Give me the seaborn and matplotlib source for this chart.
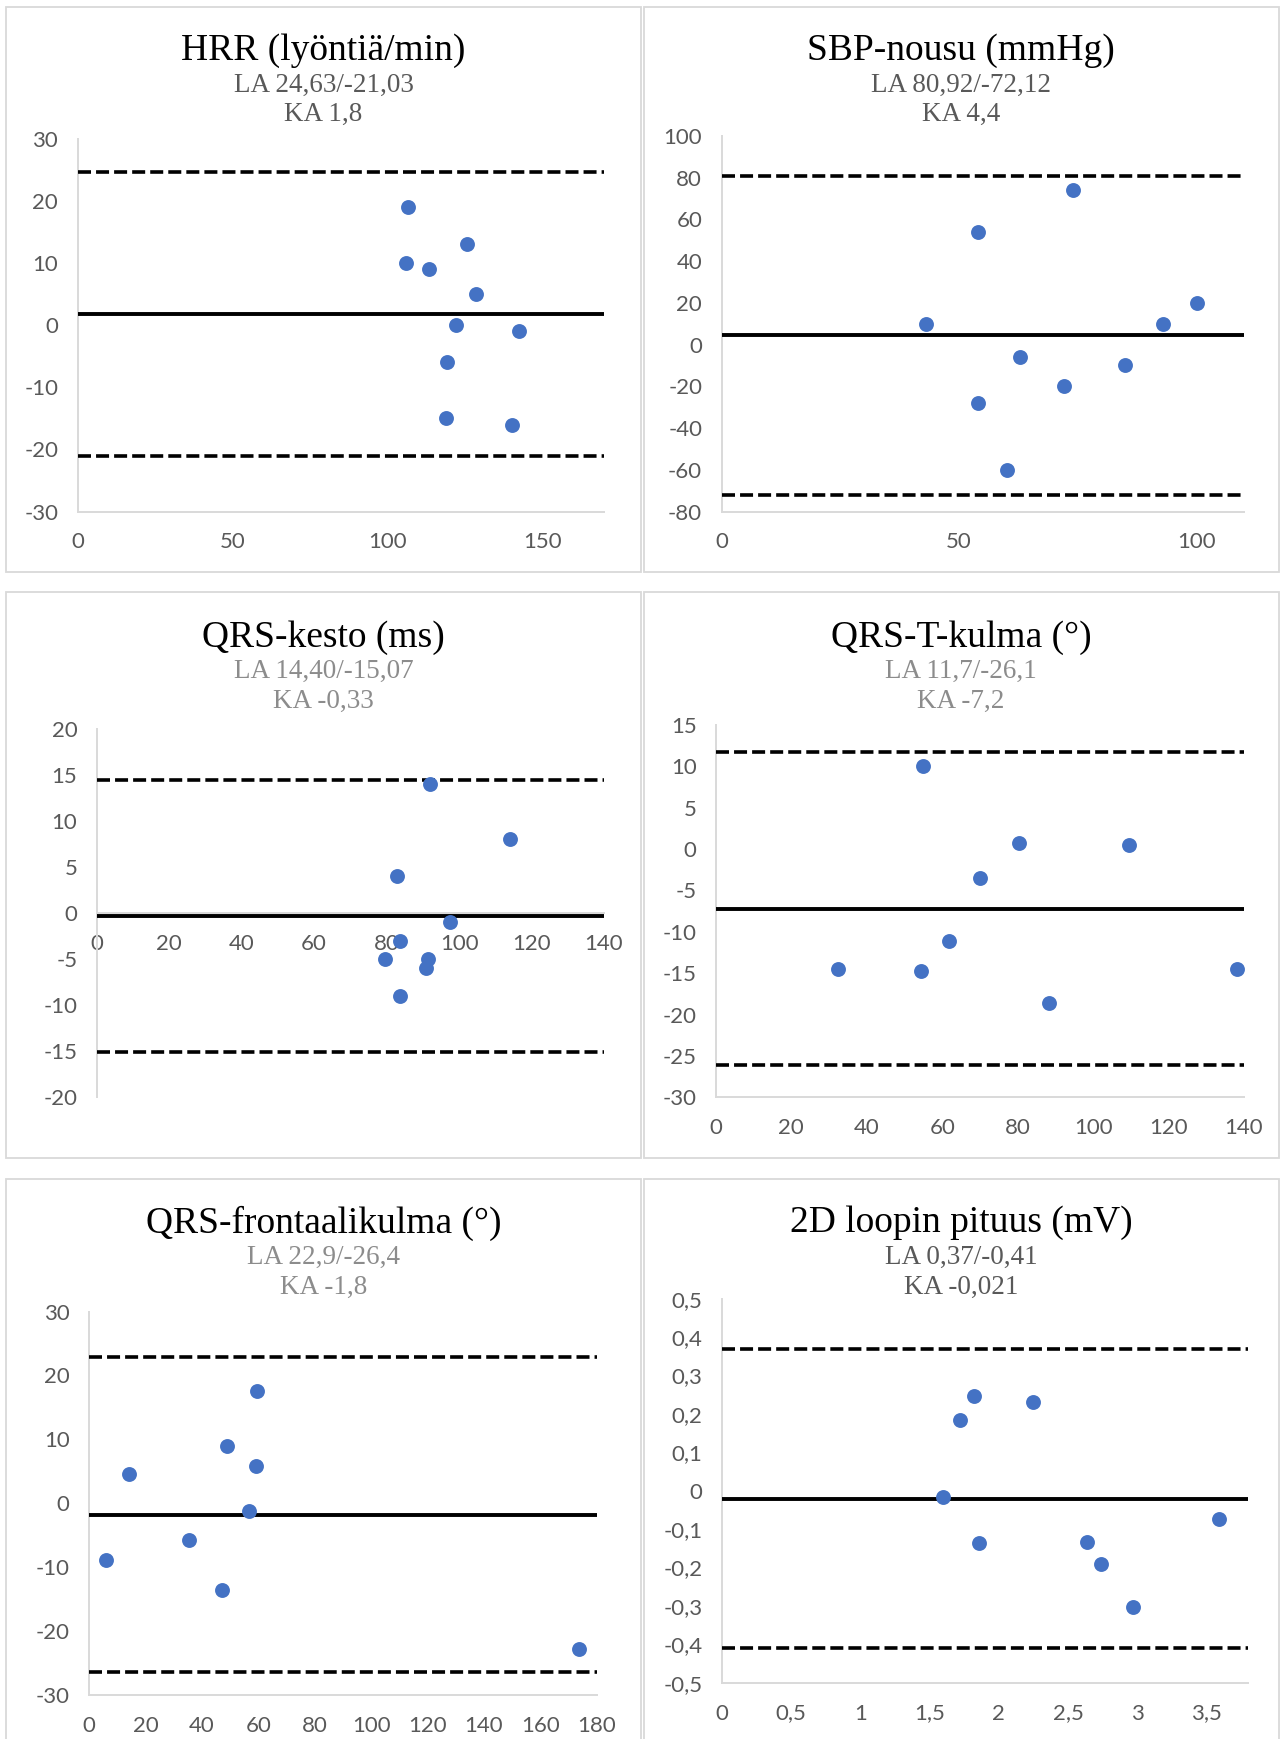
import matplotlib
matplotlib.use("Agg")
import matplotlib.pyplot as plt
import seaborn as sns
import pandas as pd
import numpy as np
from matplotlib.patches import Rectangle
from matplotlib.ticker import FuncFormatter, MultipleLocator

sns.set_theme(style="white")
plt.rcParams['font.family'] = ['Lato', 'DejaVu Sans']
plt.rcParams['axes.unicode_minus'] = False

# ---------------- data ----------------
titles = ["HRR (lyöntiä/min)", "SBP-nousu (mmHg)", "QRS-kesto (ms)",
          "QRS-T-kulma (°)", "QRS-frontaalikulma (°)", "2D loopin pituus (mV)"]
la_texts = ["LA 24,63/-21,03", "LA 80,92/-72,12", "LA 14,40/-15,07",
            "LA 11,7/-26,1", "LA 22,9/-26,4", "LA 0,37/-0,41"]
ka_texts = ["KA 1,8", "KA 4,4", "KA -0,33", "KA -7,2", "KA -1,8", "KA -0,021"]

upper_la = [24.63, 80.92, 14.40, 11.7, 22.9, 0.37]
lower_la = [-21.03, -72.12, -15.07, -26.1, -26.4, -0.41]
mean_ka = [1.8, 4.4, -0.33, -7.2, -1.8, -0.021]

hrr_x = [106.8, 106.1, 113.6, 125.9, 128.8, 122.3, 142.7, 119.3, 118.9, 140.4]
hrr_y = [19, 10, 9, 13, 5, 0, -1, -6, -15, -16]

sbp_x = [43.1, 53.9, 74.0, 62.9, 53.9, 72.1, 60.0, 85.0, 93.0, 100.0]
sbp_y = [10, 54, 74, -6, -28, -20, -60, -10, 10, 20]

qrs_x = [91.9, 114.1, 82.9, 97.4, 83.8, 79.5, 91.3, 91.0, 83.6]
qrs_y = [14, 8, 4, -1, -3, -5, -5, -6, -9]

qrst_x = [54.9, 80.4, 109.4, 70.1, 61.9, 32.5, 54.3, 88.2, 138.1]
qrst_y = [10, 0.7, 0.5, -3.5, -11.1, -14.5, -14.8, -18.6, -14.5]

front_x = [59.6, 49.1, 59.2, 14.3, 56.9, 35.3, 5.9, 47.3, 173.8]
front_y = [17.5, 8.9, 5.8, 4.5, -1.25, -5.8, -8.9, -13.6, -22.75]

loop_x = [1.60, 1.72, 1.82, 2.25, 1.86, 2.64, 2.74, 2.97, 3.59]
loop_y = [-0.017, 0.185, 0.248, 0.232, -0.135, -0.133, -0.192, -0.303, -0.074]

xs = [hrr_x, sbp_x, qrs_x, qrst_x, front_x, loop_x]
ys = [hrr_y, sbp_y, qrs_y, qrst_y, front_y, loop_y]

xlims = [(0, 170), (0, 110), (0, 140), (0, 140), (0, 180), (0, 3.8)]
ylims = [(-30, 30), (-80, 100), (-20, 20), (-30, 15), (-30, 30), (-0.5, 0.5)]
xsteps = [50, 50, 20, 20, 20, 0.5]
ysteps = [10, 20, 5, 5, 10, 0.1]

# ---------------- layout (pixels) ----------------
W, H = 1280, 1739
fig = plt.figure(figsize=(W / 100, H / 100), dpi=100)

def fx(x):
    return x / W

def fy(y):
    return 1 - y / H

# panel frames: (left, top, right, bottom)
frames = [(6, 7, 641, 572), (643.5, 7, 1278.5, 572),
          (6, 592, 641, 1158), (643.5, 592, 1278.5, 1158),
          (6, 1179, 641, 1760), (643.5, 1179, 1278.5, 1760)]
# axes rect: (left, top, right, bottom)
axrects = [(77.6, 138.7, 604, 511.6), (721.6, 135.8, 1244, 511.6),
           (96.7, 728.6, 604, 1097.3), (715.9, 724.8, 1244, 1097.3),
           (89, 1311.5, 596.7, 1695), (722, 1298.8, 1248, 1682.7)]
title_y = [(51, 85, 114), (51, 85, 114), (638, 671, 701),
           (638, 671, 701), (1223, 1257, 1287), (1223, 1257, 1287)]
title_cx = [323.5, 961, 323.5, 961, 323.5, 961]
sub_colors = ["#595959", "#595959", "#8c8c8c", "#8c8c8c", "#8c8c8c", "#595959"]

for (l, t, r, b) in frames:
    fig.patches.append(Rectangle((fx(l), fy(b)), fx(r - l), (b - t) / H,
                                 transform=fig.transFigure, fill=False,
                                 edgecolor="#d9d9d9", linewidth=1.3, zorder=0))


def fmt(v, pos):
    v = round(v, 4)
    if v == 0:
        return "0"
    s = f"{v:g}"
    return s.replace(".", ",")


serif = ['Liberation Serif', 'DejaVu Serif']

for i in range(6):
    l, t, r, b = axrects[i]
    ax = fig.add_axes([fx(l), fy(b), fx(r - l), (b - t) / H])
    df = pd.DataFrame({"x": xs[i], "y": ys[i]})
    sns.scatterplot(data=df, x="x", y="y", ax=ax, s=115, color="#4472C4",
                    edgecolor="#4472C4", linewidth=0, zorder=5)
    ax.axhline(upper_la[i], color="black", lw=2.6, linestyle=(0, (3.6, 1.4)), zorder=3)
    ax.axhline(lower_la[i], color="black", lw=2.6, linestyle=(0, (3.6, 1.4)), zorder=3)
    ax.axhline(mean_ka[i], color="black", lw=2.8, solid_capstyle="butt", zorder=3)
    ax.set_xlim(*xlims[i])
    ax.set_ylim(*ylims[i])
    ax.xaxis.set_major_locator(MultipleLocator(xsteps[i]))
    ax.yaxis.set_major_locator(MultipleLocator(ysteps[i]))
    ax.xaxis.set_major_formatter(FuncFormatter(fmt))
    ax.yaxis.set_major_formatter(FuncFormatter(fmt))
    ax.set_xlabel("")
    ax.set_ylabel("")
    ax.set_facecolor("none")
    for side in ["top", "right"]:
        ax.spines[side].set_visible(False)
    for side in ["left", "bottom"]:
        ax.spines[side].set_color("#d9d9d9")
        ax.spines[side].set_linewidth(1.4)
        ax.spines[side].set_zorder(2)
    if i == 2:
        ax.spines["bottom"].set_position(("data", 0))
    ax.tick_params(axis="both", length=0, labelcolor="#595959", labelsize=16)
    ax.tick_params(axis="y", pad=14)
    ax.tick_params(axis="x", pad=15)

    cx = fx(title_cx[i])
    fig.text(cx, fy(title_y[i][0]), titles[i], ha="center", va="center",
             fontsize=27, color="black", family=serif)
    fig.text(cx, fy(title_y[i][1]), la_texts[i], ha="center", va="center",
             fontsize=19.5, color=sub_colors[i], family=serif)
    fig.text(cx, fy(title_y[i][2]), ka_texts[i], ha="center", va="center",
             fontsize=19.5, color=sub_colors[i], family=serif)

fig.savefig("out.png", dpi=100, facecolor="white")
